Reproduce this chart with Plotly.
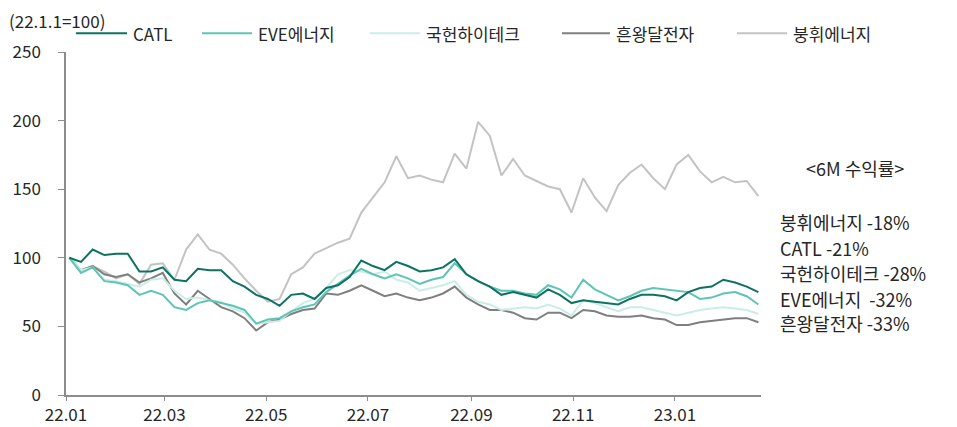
import pandas as pd
import plotly.graph_objects as go

# weekly samples, 2022-01-03 .. 2023-02-20 (22.1.1 = 100)
dates = pd.date_range("2022-01-03", periods=60, freq="7D")

catl = [100, 97, 106, 102, 103, 103, 90, 90, 93, 84, 83, 92, 91, 91, 83, 79, 73, 70, 65, 73, 74, 70,
        78, 80, 86, 98, 94, 91, 97, 94, 90, 91, 93, 99, 88, 83, 79, 73, 75, 73, 71, 77, 73,
        67, 69, 68, 67, 66, 70, 73, 73, 72, 69, 75, 78, 79, 84, 82, 79, 75]
eve = [100, 89, 93, 83, 82, 80, 73, 76, 73, 64, 62, 67, 69, 67, 65, 62, 52, 55, 56, 61, 64, 66,
       75, 81, 87, 92, 88, 85, 88, 85, 81, 84, 86, 96, 88, 83, 79, 76, 76, 74, 73, 80, 77,
       71, 84, 77, 73, 69, 72, 76, 78, 77, 76, 75, 70, 71, 74, 75, 72, 66]
guoxuan = [100, 91, 93, 84, 83, 81, 79, 84, 85, 76, 70, 71, 69, 68, 63, 60, 52, 53, 54, 61, 67, 70,
           78, 88, 91, 90, 88, 90, 84, 82, 76, 78, 80, 83, 73, 68, 66, 62, 63, 64, 63, 66, 63,
           58, 69, 67, 64, 61, 64, 64, 62, 60, 58, 60, 62, 63, 64, 63, 62, 59]
sunwoda = [100, 91, 94, 88, 86, 88, 82, 85, 89, 74, 66, 76, 70, 64, 61, 56, 47, 53, 55, 59, 62, 63,
           74, 73, 76, 80, 76, 72, 74, 71, 69, 71, 74, 79, 71, 66, 62, 62, 60, 56, 55, 60, 60,
           56, 62, 61, 58, 57, 57, 58, 56, 55, 51, 51, 53, 54, 55, 56, 56, 53]
penghui = [100, 91, 94, 90, 85, 88, 81, 95, 96, 84, 106, 117, 106, 103, 95, 85, 76, 68, 70, 88, 93, 103,
           107, 111, 114, 133, 144, 155, 174, 158, 160, 157, 155, 176, 165, 199, 189, 160, 172, 160, 156, 152, 150,
           133, 158, 144, 134, 153, 162, 168, 158, 150, 168, 175, 163, 155, 159, 155, 156, 145]

names = ["CATL", "EVE에너지", "국헌하이테크", "흔왕달전자", "붕휘에너지"]
colors = ["#0d7262", "#5ec5b5", "#cbede7", "#7f7f7f", "#c3c3c3"]
series = [catl, eve, guoxuan, sunwoda, penghui]

returns_title = "<6M 수익률>"
returns_lines = ["붕휘에너지 -18%", "CATL -21%", "국헌하이테크 -28%", "EVE에너지  -32%", "흔왕달전자 -33%"]

tick_dates = ["2022-01-01", "2022-03-01", "2022-05-01", "2022-07-01", "2022-09-01", "2022-11-01", "2023-01-01"]
tick_text = ["22.01", "22.03", "22.05", "22.07", "22.09", "22.11", "23.01"]

FONT = "Noto Sans CJK KR"
TXT = "#262626"
FS = 17

fig = go.Figure()
# draw back to front so CATL stays on top
for name, color, ys in reversed(list(zip(names, colors, series))):
    fig.add_trace(go.Scatter(x=dates, y=ys, name=name, mode="lines",
                             line=dict(color=color, width=2), showlegend=False))

# hand-made legend row above the plot
leg_lines = [(0.0144, 0.0878), (0.1957, 0.2676), (0.4374, 0.5094), (0.7137, 0.7827), (0.9655, 1.0374)]
for (x0, x1), name, color in zip(leg_lines, names, colors):
    fig.add_shape(type="line", xref="paper", yref="paper", x0=x0, x1=x1, y0=1.055, y1=1.055,
                  line=dict(color=color, width=2))
    fig.add_annotation(xref="paper", yref="paper", x=x1 + 0.006, y=1.055, text=name,
                       showarrow=False, xanchor="left", yanchor="middle",
                       font=dict(size=FS, color=TXT))

fig.add_annotation(xref="paper", yref="paper", x=-0.085, y=1.093, text="(22.1.1=100)",
                   showarrow=False, xanchor="left", yanchor="middle", font=dict(size=FS, color=TXT))

# 6M returns box on the right
fig.add_annotation(xref="paper", yref="paper", x=1.135, y=0.662, text=returns_title,
                   showarrow=False, xanchor="center", yanchor="middle", font=dict(size=18, color=TXT))
for txt, yy in zip(returns_lines, [0.504, 0.429, 0.356, 0.280, 0.210]):
    fig.add_annotation(xref="paper", yref="paper", x=1.024, y=yy, text=txt,
                       showarrow=False, xanchor="left", yanchor="middle",
                       font=dict(size=18, color=TXT))

fig.update_xaxes(
    type="date",
    range=["2022-01-01", "2023-02-21 14:00"],
    tickvals=tick_dates, ticktext=tick_text,
    showline=True, linecolor="#8c8c8c", linewidth=1.5,
    ticks="outside", ticklen=4, tickcolor="#8c8c8c",
    showgrid=False, zeroline=False, automargin=False,
    tickfont=dict(size=FS, color=TXT),
)
fig.update_yaxes(
    range=[0, 250], dtick=50,
    showline=True, linecolor="#8c8c8c", linewidth=1.5,
    ticks="outside", ticklen=6, tickcolor="#8c8c8c",
    showgrid=False, zeroline=False,
    ticklabelstandoff=14, automargin=False,
    tickfont=dict(size=FS, color=TXT),
)
fig.update_layout(
    width=957, height=427,
    margin=dict(l=66, r=196, t=52, b=32),
    plot_bgcolor="white", paper_bgcolor="white",
    font=dict(family=FONT, color=TXT),
)

# drop the page's default 8px body margin so the figure sits at the window origin
fig.write_html("out.html", config={"displayModeBar": False},
               post_script="document.body.style.margin='0';")
